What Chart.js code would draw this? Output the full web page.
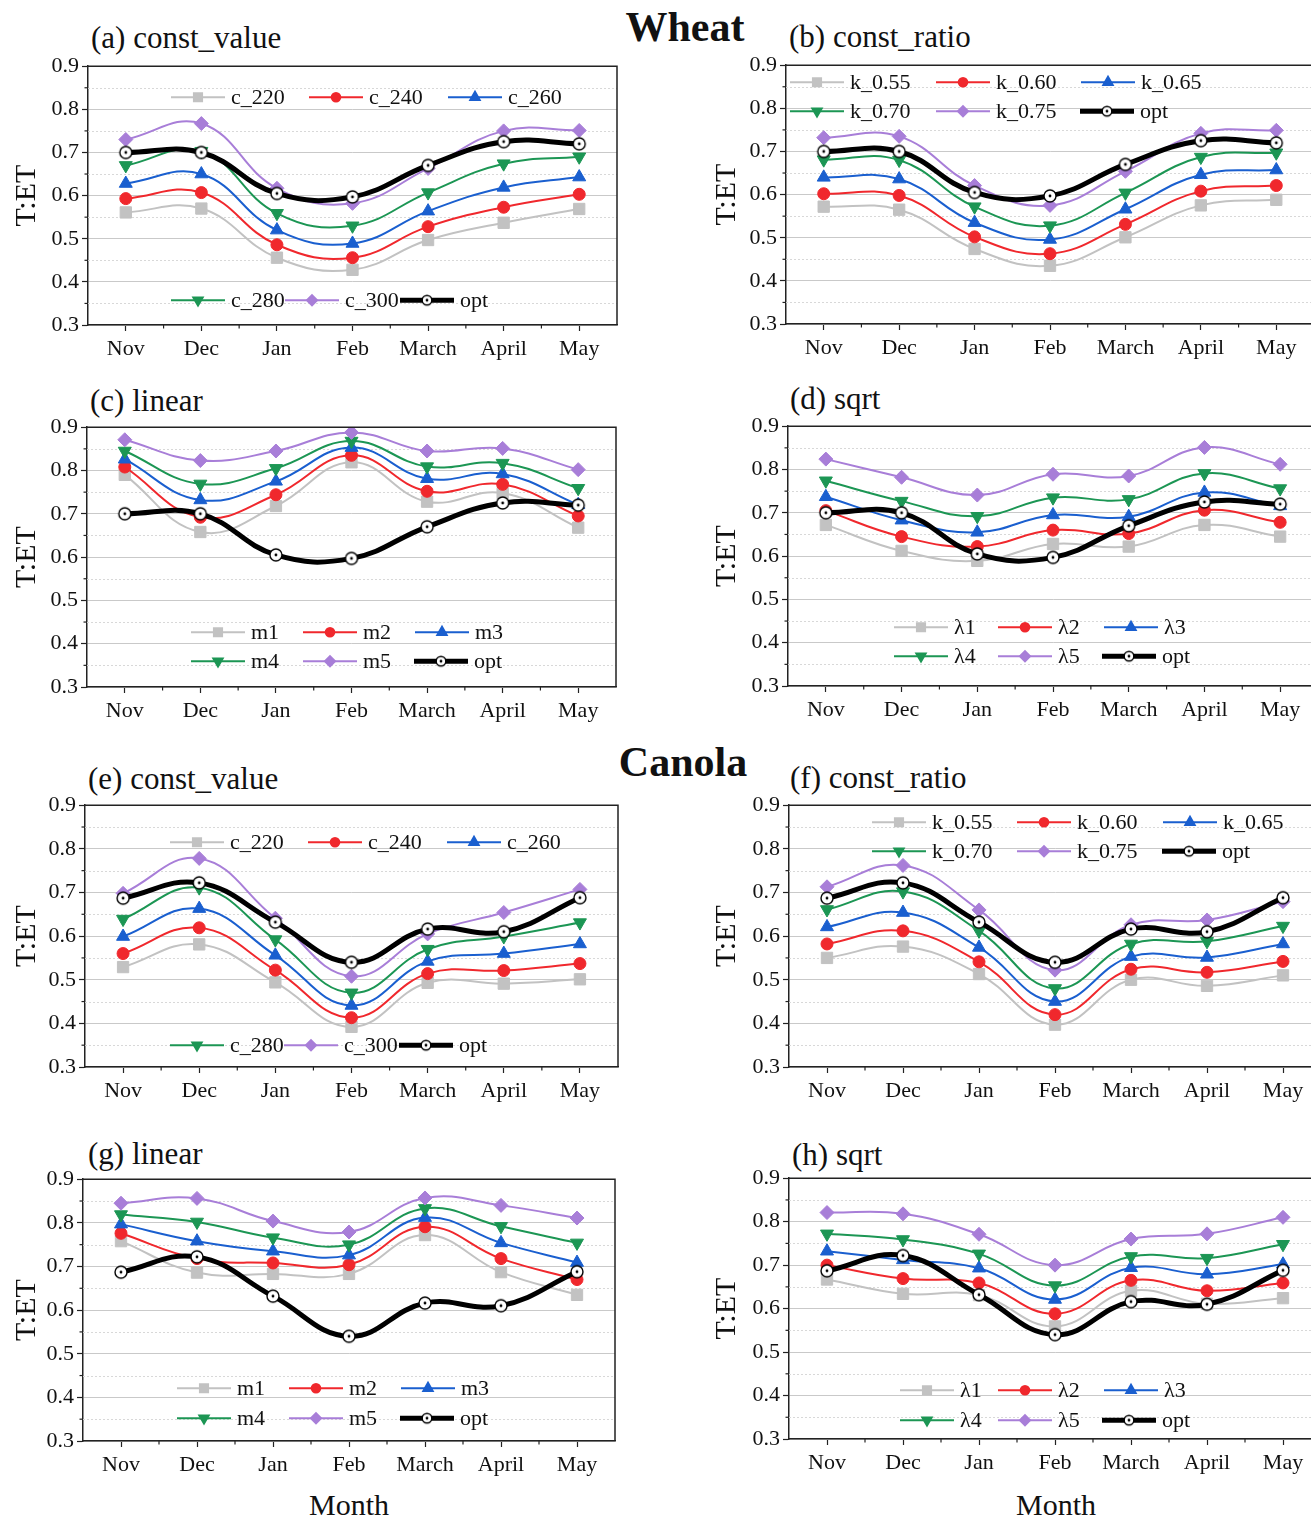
<!DOCTYPE html>
<html><head><meta charset="utf-8">
<script src="https://cdn.jsdelivr.net/npm/chart.js@4.4.1/dist/chart.umd.min.js"></script>
<style>
html,body{margin:0;padding:0;}
body{width:1311px;height:1519px;overflow:hidden;background:#fff;position:relative;font-family:"Liberation Serif","Times New Roman",serif;color:#111;}
canvas{position:absolute;}
.t{position:absolute;white-space:nowrap;transform:translateY(-50%);font-size:30px;line-height:1;}
.c{transform:translate(-50%,-50%);}
.big{font-size:42px;font-weight:bold;}
</style></head><body>
<div class="t c big" style="left:685px;top:27px;">Wheat</div>
<div class="t c big" style="left:683px;top:762px;">Canola</div>
<div class="t" style="left:91px;top:37px;font-size:31px;">(a) const_value</div>
<div class="t" style="left:789px;top:36px;font-size:31px;">(b) const_ratio</div>
<div class="t" style="left:90px;top:400px;font-size:31px;">(c) linear</div>
<div class="t" style="left:790px;top:398px;font-size:31px;">(d) sqrt</div>
<div class="t" style="left:88px;top:778px;font-size:31px;">(e) const_value</div>
<div class="t" style="left:790px;top:777px;font-size:31px;">(f) const_ratio</div>
<div class="t" style="left:88px;top:1153px;font-size:31px;">(g) linear</div>
<div class="t" style="left:792px;top:1154px;font-size:31px;">(h) sqrt</div>
<div class="t c" style="left:349px;top:1505px;">Month</div>
<div class="t c" style="left:1056px;top:1505px;">Month</div>
<script>
// ---------------- DATA ----------------
const months = ['Nov', 'Dec', 'Jan', 'Feb', 'March', 'April', 'May'];
const yTickValues = [0.3, 0.4, 0.5, 0.6, 0.7, 0.8, 0.9];

const cvNames = ['c_220', 'c_240', 'c_260', 'c_280', 'c_300'];
const crNames = ['k_0.55', 'k_0.60', 'k_0.65', 'k_0.70', 'k_0.75'];
const linNames = ['m1', 'm2', 'm3', 'm4', 'm5'];
const sqrtNames = ['λ1', 'λ2', 'λ3', 'λ4', 'λ5'];

const wheatOpt  = [0.700, 0.700, 0.605, 0.597, 0.670, 0.725, 0.720];
const canolaOpt = [0.687, 0.722, 0.632, 0.540, 0.616, 0.610, 0.688];

// (a) wheat const_value
const wheatConstValue = [
  [0.561, 0.570, 0.456, 0.428, 0.497, 0.537, 0.569],
  [0.593, 0.607, 0.486, 0.456, 0.528, 0.573, 0.603],
  [0.628, 0.650, 0.520, 0.489, 0.564, 0.619, 0.643],
  [0.670, 0.703, 0.559, 0.530, 0.607, 0.674, 0.690],
  [0.730, 0.767, 0.617, 0.582, 0.663, 0.750, 0.751]
];
// (b) wheat const_ratio
const wheatConstRatio = [
  [0.572, 0.565, 0.474, 0.435, 0.501, 0.575, 0.588],
  [0.602, 0.598, 0.502, 0.463, 0.531, 0.608, 0.621],
  [0.640, 0.636, 0.535, 0.496, 0.566, 0.646, 0.657],
  [0.681, 0.680, 0.572, 0.528, 0.604, 0.687, 0.697],
  [0.732, 0.735, 0.621, 0.575, 0.654, 0.742, 0.749]
];
// (c) wheat linear
const wheatLinear = [
  [0.790, 0.658, 0.718, 0.819, 0.728, 0.748, 0.668],
  [0.808, 0.692, 0.744, 0.835, 0.752, 0.768, 0.695],
  [0.826, 0.732, 0.775, 0.853, 0.781, 0.792, 0.721],
  [0.845, 0.769, 0.805, 0.868, 0.809, 0.817, 0.759],
  [0.871, 0.823, 0.845, 0.888, 0.845, 0.851, 0.802]
];
// (d) wheat sqrt
const wheatSqrt = [
  [0.672, 0.612, 0.589, 0.628, 0.622, 0.672, 0.645],
  [0.705, 0.645, 0.622, 0.660, 0.652, 0.706, 0.678],
  [0.737, 0.683, 0.655, 0.695, 0.691, 0.747, 0.716],
  [0.774, 0.727, 0.692, 0.735, 0.731, 0.791, 0.756],
  [0.824, 0.782, 0.741, 0.789, 0.785, 0.851, 0.812]
];
// (e) canola const_value
const canolaConstValue = [
  [0.529, 0.581, 0.494, 0.392, 0.493, 0.491, 0.501],
  [0.560, 0.619, 0.522, 0.413, 0.514, 0.521, 0.537],
  [0.599, 0.663, 0.556, 0.441, 0.542, 0.560, 0.582],
  [0.639, 0.711, 0.592, 0.470, 0.570, 0.599, 0.631],
  [0.698, 0.778, 0.641, 0.508, 0.605, 0.654, 0.707]
];
// (f) canola const_ratio
const canolaConstRatio = [
  [0.550, 0.576, 0.513, 0.397, 0.500, 0.486, 0.510],
  [0.582, 0.612, 0.541, 0.420, 0.524, 0.517, 0.542],
  [0.621, 0.654, 0.574, 0.450, 0.553, 0.551, 0.582],
  [0.661, 0.702, 0.612, 0.480, 0.582, 0.588, 0.623],
  [0.713, 0.762, 0.660, 0.522, 0.626, 0.637, 0.679]
];
// (g) canola linear
const canolaLinear = [
  [0.758, 0.686, 0.683, 0.683, 0.772, 0.687, 0.635],
  [0.776, 0.718, 0.708, 0.704, 0.791, 0.718, 0.670],
  [0.797, 0.758, 0.735, 0.726, 0.812, 0.754, 0.709],
  [0.819, 0.802, 0.766, 0.750, 0.833, 0.792, 0.754],
  [0.845, 0.856, 0.804, 0.779, 0.857, 0.840, 0.811]
];
// (h) canola sqrt
const canolaSqrt = [
  [0.667, 0.634, 0.631, 0.559, 0.641, 0.611, 0.624],
  [0.700, 0.669, 0.659, 0.588, 0.665, 0.641, 0.659],
  [0.732, 0.712, 0.693, 0.621, 0.694, 0.679, 0.702],
  [0.772, 0.759, 0.726, 0.653, 0.720, 0.716, 0.748],
  [0.821, 0.818, 0.771, 0.700, 0.760, 0.772, 0.810]
];

// ---------------- STYLE / LAYOUT ----------------
const FONT = '"Liberation Serif", "Times New Roman", serif';
const seriesStyle = [
  {color: '#c2c2c2', style: 'rect', rot: 0, r: 8},
  {color: '#f0282d', style: 'circle', rot: 0, r: 6},
  {color: '#1a5fcf', style: 'triangle', rot: 0, r: 7.5},
  {color: '#1c9654', style: 'triangle', rot: 180, r: 7.5},
  {color: '#a87ed8', style: 'rectRot', rot: 0, r: 7}
];

function makeOptMarker(r) {
  const s = Math.ceil(r * 2 + 4);
  const c = document.createElement('canvas');
  c.width = s; c.height = s;
  const g = c.getContext('2d');
  g.beginPath(); g.arc(s / 2, s / 2, r, 0, Math.PI * 2);
  g.fillStyle = '#fff'; g.fill();
  g.lineWidth = 1.4; g.strokeStyle = '#000'; g.stroke();
  g.beginPath(); g.arc(s / 2, s / 2, 1.4, 0, Math.PI * 2);
  g.fillStyle = '#000'; g.fill();
  return c;
}
const optMarker = makeOptMarker(6);
const optMarkerSmall = makeOptMarker(4.8);

const panels = [
  {id: 'a', data: wheatConstValue, names: cvNames, opt: wheatOpt, L: 88, T: 66, R: 617, B: 325, cl: 0,
   legend: [[83,31],[221,31],[360,31],[83,234],[197,234],[312,234]]},
  {id: 'b', data: wheatConstRatio, names: crNames, opt: wheatOpt, L: 786, T: 65, R: 1314, B: 324, cl: 700,
   legend: [[4,17],[150,17],[295,17],[4,46],[150,46],[294,46]]},
  {id: 'c', data: wheatLinear, names: linNames, opt: wheatOpt, L: 87, T: 427, R: 616, B: 687, cl: 0,
   legend: [[104,205],[216,205],[328,205],[104,234],[216,234],[327,234]]},
  {id: 'd', data: wheatSqrt, names: sqrtNames, opt: wheatOpt, L: 788, T: 426, R: 1318, B: 686, cl: 700,
   legend: [[106,201],[210,201],[316,201],[106,230],[210,230],[314,230]]},
  {id: 'e', data: canolaConstValue, names: cvNames, opt: canolaOpt, L: 85, T: 805, R: 618, B: 1067, cl: 0,
   legend: [[85,37],[223,37],[362,37],[85,240],[199,240],[314,240]]},
  {id: 'f', data: canolaConstRatio, names: crNames, opt: canolaOpt, L: 789, T: 805, R: 1321, B: 1067, cl: 700,
   legend: [[83,17],[228,17],[374,17],[83,46],[228,46],[373,46]]},
  {id: 'g', data: canolaLinear, names: linNames, opt: canolaOpt, L: 83, T: 1179, R: 615, B: 1441, cl: 0,
   legend: [[94,209],[206,209],[318,209],[94,239],[206,239],[317,239]]},
  {id: 'h', data: canolaSqrt, names: sqrtNames, opt: canolaOpt, L: 789, T: 1178, R: 1321, B: 1439, cl: 700,
   legend: [[111,212],[209,212],[315,212],[111,242],[209,242],[313,242]]}
];

const PAD_TOP = 16, X_AXIS_H = 44, PAD_RIGHT = 2;

const decorPlugin = {
  id: 'decor',
  beforeDatasetsDraw(chart) {
    const {ctx, chartArea: a, scales: {y}} = chart;
    ctx.save();
    ctx.strokeStyle = '#d8d8d8'; ctx.lineWidth = 1; ctx.setLineDash([2, 2]);
    const t = y.ticks;
    for (let i = 0; i < t.length - 1; i++) {
      const py = Math.round(y.getPixelForValue((t[i].value + t[i + 1].value) / 2)) + 0.5;
      ctx.beginPath(); ctx.moveTo(a.left, py); ctx.lineTo(a.right, py); ctx.stroke();
    }
    ctx.restore();
  },
  afterDatasetsDraw(chart) {
    const {ctx, chartArea: a, scales: {x, y}} = chart;
    ctx.save();
    ctx.strokeStyle = '#222'; ctx.lineWidth = 1.5;
    ctx.beginPath();
    ctx.moveTo(a.left, a.top); ctx.lineTo(a.right, a.top); ctx.lineTo(a.right, a.bottom);
    ctx.stroke();
    ctx.lineWidth = 1.2;
    const t = y.ticks;
    for (let i = 0; i < t.length - 1; i++) {
      const py = y.getPixelForValue((t[i].value + t[i + 1].value) / 2);
      ctx.beginPath(); ctx.moveTo(a.left - 3.5, py); ctx.lineTo(a.left, py); ctx.stroke();
    }
    const n = x.getLabels().length;
    for (let i = 0; i < n - 1; i++) {
      const px = (x.getPixelForValue(i) + x.getPixelForValue(i + 1)) / 2;
      ctx.beginPath(); ctx.moveTo(px, a.bottom); ctx.lineTo(px, a.bottom + 3.5); ctx.stroke();
    }
    ctx.restore();
  }
};

const legendPlugin = {
  id: 'customLegend',
  afterDraw(chart, args, opts) {
    const {ctx, chartArea: a} = chart;
    const pos = opts.positions || [];
    ctx.save();
    chart.data.datasets.forEach((ds, i) => {
      const p = pos[ds.legendIndex];
      if (!p) return;
      const x0 = a.left + p[0], y0 = a.top + p[1], len = 54;
      ctx.strokeStyle = ds.borderColor; ctx.lineWidth = ds.borderWidth;
      ctx.setLineDash([]);
      ctx.beginPath(); ctx.moveTo(x0, y0); ctx.lineTo(x0 + len, y0); ctx.stroke();
      const mx = x0 + len / 2;
      if (ds.isOpt) {
        ctx.drawImage(optMarkerSmall, mx - optMarkerSmall.width / 2, y0 - optMarkerSmall.height / 2);
      } else {
        ctx.fillStyle = ds.pointBackgroundColor; ctx.strokeStyle = ds.pointBorderColor;
        Chart.helpers.drawPoint(ctx, {pointStyle: ds.pointStyle, rotation: ds.pointRotation,
          radius: ds.pointRadius * 0.72, borderWidth: 1}, mx, y0);
      }
      ctx.fillStyle = '#111';
      ctx.font = '22px ' + FONT;
      ctx.textAlign = 'left'; ctx.textBaseline = 'middle';
      ctx.fillText(ds.label, x0 + len + 6, y0 + 1);
    });
    ctx.restore();
  }
};

panels.forEach(p => {
  const cv = document.createElement('canvas');
  const top = p.T - PAD_TOP;
  const w = p.R - p.cl + PAD_RIGHT;
  const h = PAD_TOP + (p.B - p.T) + X_AXIS_H;
  cv.width = w; cv.height = h;
  cv.style.left = p.cl + 'px'; cv.style.top = top + 'px';
  cv.style.width = w + 'px'; cv.style.height = h + 'px';
  document.body.appendChild(cv);

  const datasets = p.data.map((vals, i) => {
    const s = seriesStyle[i];
    return {
      label: p.names[i], data: vals, legendIndex: i,
      borderColor: s.color, backgroundColor: s.color, borderWidth: 2,
      pointStyle: s.style, pointRotation: s.rot, pointRadius: s.r,
      pointBackgroundColor: s.color, pointBorderColor: s.color, pointBorderWidth: 1,
      tension: 0.42, fill: false, order: 5 - i
    };
  });
  datasets.push({
    label: 'opt', data: p.opt, legendIndex: 5, isOpt: true,
    borderColor: '#000', backgroundColor: '#000', borderWidth: 5,
    pointStyle: optMarker, pointRadius: 6, pointRotation: 0,
    tension: 0.42, fill: false, order: -1
  });

  const yAxisW = p.L - p.cl;
  new Chart(cv, {
    type: 'line',
    data: {labels: months, datasets},
    plugins: [decorPlugin, legendPlugin],
    options: {
      responsive: false, animation: false, devicePixelRatio: 1,
      layout: {autoPadding: false, padding: {top: PAD_TOP, right: PAD_RIGHT, left: 0, bottom: 0}},
      events: [],
      plugins: {legend: {display: false}, tooltip: {enabled: false},
        customLegend: {positions: p.legend}},
      scales: {
        x: {
          type: 'category', offset: true,
          grid: {display: true, drawOnChartArea: false, offset: false, tickLength: 6, tickColor: '#222', tickWidth: 1.2},
          border: {color: '#222', width: 1.5},
          ticks: {font: {family: FONT, size: 22}, color: '#111', padding: 5, maxRotation: 0, autoSkip: false},
          afterFit(s) { s.height = X_AXIS_H; s.paddingLeft = 0; s.paddingRight = 0; }
        },
        y: {
          min: yTickValues[0], max: yTickValues[yTickValues.length - 1],
          afterBuildTicks(s) { s.ticks = yTickValues.map(v => ({value: v})); },
          ticks: {font: {family: FONT, size: 22}, color: '#111', padding: 3, autoSkip: false,
            callback: v => Number(v).toFixed(1)},
          grid: {color: '#c9c9c9', lineWidth: 1, tickLength: 6, tickColor: '#222', tickWidth: 1.2},
          border: {color: '#222', width: 1.5},
          title: {display: true, text: 'T:ET', color: '#111', font: {family: FONT, size: 30},
            padding: {top: 9, bottom: 0}},
          afterFit(s) { s.width = yAxisW; }
        }
      }
    }
  });
});
</script>
</body></html>
